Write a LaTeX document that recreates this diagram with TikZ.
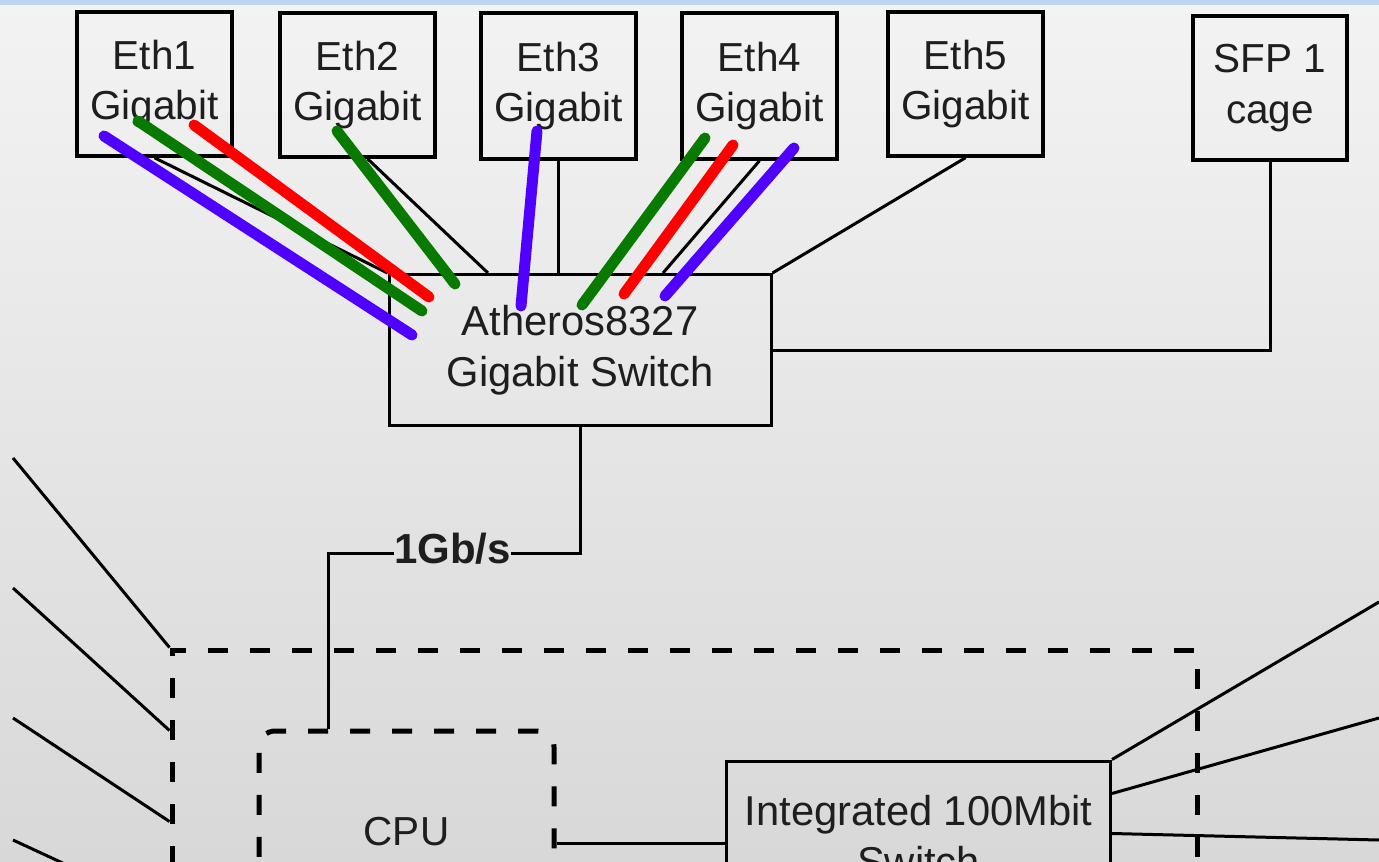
\documentclass[tikz,border=0pt]{standalone}
\usepackage{fontspec}
\setmainfont{Liberation Sans}

\definecolor{bgtop}{HTML}{F3F3F3}
\definecolor{bgbot}{HTML}{D8D8D8}
\definecolor{band}{HTML}{BDD5EE}
\definecolor{ink}{HTML}{1E1E1E}
\definecolor{lanblue}{HTML}{5000FF}
\definecolor{langreen}{HTML}{087A00}
\definecolor{lanred}{HTML}{FF0000}

\tikzset{
    every node/.style={font=\fontsize{40.5}{50.5}\selectfont, text=ink},
    port/.style={draw, line width=3.5pt, minimum width=155pt, minimum height=144pt, align=center},
    chip/.style={draw, line width=3pt, align=center, font=\fontsize{41.7}{51}\selectfont},
    wire/.style={line width=3pt},
    frame/.style={draw, line width=5pt, dash pattern=on 20pt off 22pt},
    lane/.style={line width=11pt, line cap=round},
}

\begin{document}
\begin{tikzpicture}[x=1pt,y=-1pt]
                \useasboundingbox (0,0) rectangle (1379,862);
                \clip (0,0) rectangle (1379,862);
                \shade [top color=bgtop, bottom color=bgbot] (0,0) rectangle (1379,862);
                \fill [band] (0,0) rectangle (1379,4.5);

                % ports on top
                \node (eth1) [port] at (154.5,84) {Eth1\\Gigabit};
                \node (eth2) [port] at (357.5,85) {Eth2\\Gigabit};
                \node (eth3) [port, minimum height=146pt] at (558.5,86) {Eth3\\Gigabit};
                \node (eth4) [port, minimum height=146pt] at (759.5,86) {Eth4\\Gigabit};
                \node (eth5) [port] at (965.5,84) {Eth5\\Gigabit};
                \node (sfp) [port, minimum width=154pt] at (1270,88) {SFP 1\\cage};

                \node (ath) [chip, minimum width=382pt, minimum height=151pt] at (580,350) {Atheros8327\\Gigabit Switch};

                % soc with cpu and small switch
                \node (soc) [frame, minimum width=1025pt, minimum height=400pt] at (684.5,850) {};
                \node (cpu) [frame, rounded corners=16pt, minimum width=295pt, minimum height=202pt] at (406.5,832) {CPU};
                \node (intsw) [chip, minimum width=384pt, minimum height=150pt] at (918.5,836) {Integrated 100Mbit\\Switch};

                \node (rate) [inner sep=0pt, font=\bfseries\fontsize{42}{51}\selectfont] at (452.5,549) {1Gb/s};

                % loose ends outside the crop
                \coordinate (l1) at (13,458);
                \coordinate (l2) at (13,588);
                \coordinate (l3) at (13,718);
                \coordinate (l4) at (13,840);
                \coordinate (r1) at (1379,602);
                \coordinate (r2) at (1379,718);
                \coordinate (r3) at (1379,840);

                \path [wire]
                    (eth1.south) edge (ath.north west)
                    ([xshift=10pt]eth2.south) edge ([xshift=-92pt]ath.north)
                    (eth3.south) edge (eth3.south |- ath.north)
                    (eth4.south) edge ([xshift=83pt]ath.north)
                    (eth5.south) edge (ath.north east)
                    (l1) edge (soc.north west)
                    (l2) edge ([yshift=-83pt]soc.north west)
                    (l3) edge ([yshift=-174pt]soc.north west)
                    (l4) edge ([yshift=-265pt]soc.north west)
                    (intsw.north east) edge (r1)
                    ([yshift=-34pt]intsw.north east) edge (r2)
                    ([yshift=-74pt]intsw.north east) edge (r3)
                    ([yshift=-7pt]intsw.west -| cpu.east) edge ([yshift=-7pt]intsw.west)
                ;
                \draw [wire] (sfp.south) |- (ath.east);
                \draw [wire] (ath.south) |- ([yshift=-4pt]rate.east);
                \draw [wire] ([yshift=-4pt]rate.west) -| ([xshift=-78.5pt]cpu.north);

                % colour marks over the ports
                \draw [lane, lanblue] (104,136) -- (412,335);
                \draw [lane, langreen] (138,121) -- (422,311);
                \draw [lane, lanred] (194,125) -- (429,297);
                \draw [lane, langreen] (337,131) -- (455,284);
                \draw [lane, lanblue] (537,131) -- (521,306);
                \draw [lane, langreen] (705,138) -- (582,305);
                \draw [lane, lanred] (733,145) -- (624,294);
                \draw [lane, lanblue] (794,148) -- (665,296);
            \end{tikzpicture}
\end{document}
